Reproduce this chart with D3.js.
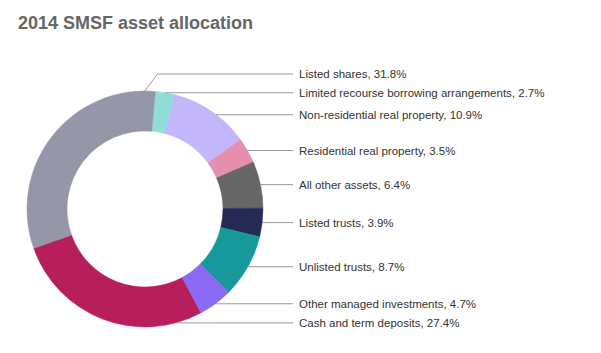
<!DOCTYPE html>
<html>
<head>
<meta charset="utf-8">
<script src="https://cdn.jsdelivr.net/npm/d3@7"></script>
<style>
  body { margin: 0; background: #fff; }
  text { font-family: "Liberation Sans", Arial, Helvetica, sans-serif; }
</style>
</head>
<body>
<div id="chart"></div>
<script>
// 2014 SMSF asset allocation donut
var categories = ["Limited recourse borrowing arrangements", "Non-residential real property",
    "Residential real property", "All other assets", "Listed trusts", "Unlisted trusts",
    "Other managed investments", "Cash and term deposits", "Listed shares"];
var values = [2.7, 10.9, 3.5, 6.4, 3.9, 8.7, 4.7, 27.4, 31.8];
var colors = ["#90ddd7", "#c3b6fb", "#e48fae", "#666666", "#242a54", "#17989b",
    "#8b6bf4", "#b71f5a", "#9597a9"];

var width = 601, height = 353;
var cx = 145, cy = 209, outerR = 118, innerR = 78;
var labelX = 299, lineEnd = 293;
var minGap = 22;
var startAngle = 5 * Math.PI / 180;

var svg = d3.select("#chart").append("svg")
    .attr("width", width)
    .attr("height", height);

svg.append("text")
    .attr("x", 18)
    .attr("y", 29)
    .attr("font-size", "18px")
    .attr("font-weight", "bold")
    .attr("fill", "#666666")
    .text("2014 SMSF asset allocation");

var data = categories.map(function (c, i) {
    return { name: c, value: values[i], color: colors[i] };
});

var pie = d3.pie()
    .sort(null)
    .value(function (d) { return d.value; })
    .startAngle(startAngle)
    .endAngle(startAngle + 2 * Math.PI);

var arc = d3.arc()
    .innerRadius(innerR)
    .outerRadius(outerR);

var arcs = pie(data);

var g = svg.append("g").attr("transform", "translate(" + cx + "," + cy + ")");

g.selectAll("path")
    .data(arcs)
    .enter().append("path")
    .attr("d", arc)
    .attr("fill", function (d) { return d.data.color; })
    .attr("stroke", function (d) { return d.data.color; })
    .attr("stroke-width", 0.5);

// leader lines + labels
var prevY = -Infinity;
arcs.forEach(function (d) {
    var mid = (d.startAngle + d.endAngle) / 2;
    var side = Math.sin(mid);
    var pts, ly;
    if (side >= 0) {
        ly = Math.max(-outerR * Math.cos(mid), prevY + minGap);
        prevY = ly;
        var lx = Math.sqrt(outerR * outerR - ly * ly);
        pts = [[lx, ly], [lineEnd - cx, ly]];
    } else if (Math.cos(mid) < 0) {
        // bottom-left slice: run along the bottom
        ly = outerR * 0.965;
        var bx = Math.sqrt(outerR * outerR - ly * ly);
        pts = [[bx, ly], [lineEnd - cx, ly]];
    } else {
        // top-left slice: elbow above the ring
        var a = d.endAngle - 0.09;
        var px = outerR * Math.sin(a), py = -outerR * Math.cos(a);
        ly = -outerR - 17;
        pts = [[px, py], [px + 13, ly], [lineEnd - cx, ly]];
    }
    g.append("path")
        .attr("d", d3.line()(pts))
        .attr("fill", "none")
        .attr("stroke", "#9a9a9a")
        .attr("stroke-width", 1);
    g.append("text")
        .attr("x", labelX - cx)
        .attr("y", ly)
        .attr("dy", "0.35em")
        .attr("font-size", "11.5px")
        .attr("fill", "#333333")
        .text(d.data.name + ", " + d.data.value.toFixed(1) + "%");
});
</script>
</body>
</html>
